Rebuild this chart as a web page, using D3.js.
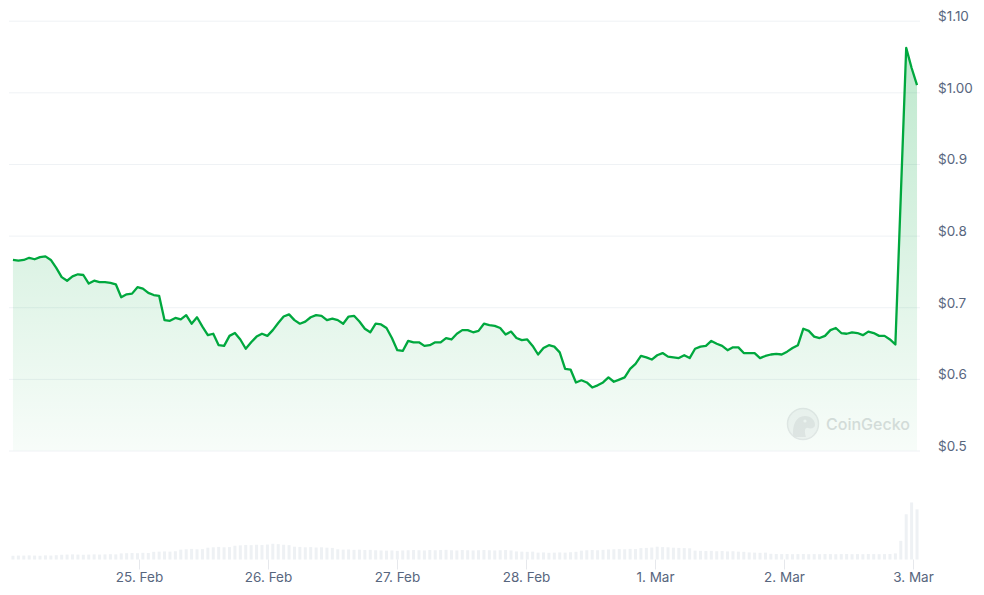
<!DOCTYPE html>
<html>
<head>
<meta charset="utf-8">
<script src="https://cdn.jsdelivr.net/npm/d3@7"></script>
<style>
  html, body { margin: 0; padding: 0; background: #ffffff; }
  svg { display: block; font-family: Inter, "Noto Sans", sans-serif; }
</style>
</head>
<body>
<svg id="chart" width="984" height="595"></svg>
<script>
// ---- DATA ----
const startTime = new Date(2025, 1, 24, 0, 33);
const endTime = new Date(2025, 2, 3, 0, 45);

const prices = [
  0.766, 0.765, 0.766, 0.769, 0.767, 0.770, 0.771, 0.766, 0.755, 0.742,
  0.737, 0.743, 0.746, 0.745, 0.733, 0.737, 0.735, 0.735, 0.734, 0.732,
  0.714, 0.718, 0.719, 0.728, 0.726, 0.720, 0.717, 0.716, 0.682, 0.681,
  0.685, 0.683, 0.689,
  0.677, 0.686, 0.673, 0.661, 0.663, 0.647, 0.646, 0.660, 0.664, 0.655,
  0.642, 0.651, 0.659, 0.663, 0.660, 0.668, 0.678, 0.687, 0.690, 0.682,
  0.677, 0.680, 0.686, 0.689, 0.688, 0.682, 0.684, 0.682, 0.677, 0.687,
  0.688, 0.680, 0.670, 0.665,
  0.677, 0.676, 0.671, 0.657, 0.640, 0.639, 0.653, 0.651, 0.651, 0.646,
  0.647, 0.651, 0.651, 0.657, 0.655, 0.663, 0.668, 0.668, 0.665, 0.667,
  0.677, 0.675, 0.674, 0.671, 0.662, 0.666, 0.657, 0.654, 0.655, 0.646,
  0.634, 0.643, 0.647,
  0.645, 0.637, 0.614, 0.613, 0.595, 0.598, 0.595, 0.588, 0.591, 0.595,
  0.602, 0.596, 0.599, 0.602, 0.614, 0.621, 0.632, 0.630, 0.627, 0.633,
  0.636, 0.631, 0.630, 0.629, 0.633, 0.629, 0.642, 0.645, 0.646, 0.653,
  0.649, 0.646, 0.640, 0.644, 0.644, 0.636,
  0.636, 0.636, 0.629, 0.632, 0.634, 0.635, 0.634, 0.638, 0.643, 0.647,
  0.670, 0.667, 0.659, 0.657, 0.660, 0.668, 0.671, 0.664, 0.663, 0.665,
  0.664, 0.661, 0.666, 0.664, 0.660, 0.660, 0.655, 0.648,
  0.855, 1.062, 1.034, 1.010
];

// volume (thousand USD)
const volumes = [
  38, 40, 40, 42, 40, 38, 42, 40, 44,
  48, 50, 52, 50, 48, 50, 52, 50, 52, 54, 52,
  62, 64, 66, 64, 68, 66,
  78, 80, 82, 80, 84,
  100, 104, 108, 104, 106,
  120, 124, 128, 124, 126,
  140, 144, 148, 146, 150, 148, 152, 160, 156, 150, 146,
  130, 128, 124, 126, 122, 124, 120, 118,
  104, 100, 102, 98, 100, 96, 98, 94, 92, 90, 92, 88,
  92, 94, 96, 94, 92, 96, 94, 96, 98, 94, 92, 96, 94, 92, 94, 96, 94, 92, 94, 96, 92,
  82, 80, 78, 80,
  70, 72, 68, 70, 72, 70, 74, 78,
  90, 94, 96, 94, 98,
  102, 104, 106, 104, 108, 106,
  116, 118, 122, 130, 126, 124, 120, 118, 116, 114,
  90, 88, 86, 88, 84, 86, 82, 84, 80, 78,
  72, 70, 68, 70,
  58, 56, 55, 56, 54, 55, 56, 54, 55, 54, 56, 55, 54, 55, 56, 54, 55, 54, 56, 55, 54, 55, 56,
  62, 190, 460, 580, 510
];

const yTicks = [0.5, 0.6, 0.7, 0.8, 0.9, 1.0, 1.1];
const yTickLabels = ["$0.5", "$0.6", "$0.7", "$0.8", "$0.9", "$1.00", "$1.10"];
const xTickDates = [
  new Date(2025, 1, 25), new Date(2025, 1, 26), new Date(2025, 1, 27),
  new Date(2025, 1, 28), new Date(2025, 2, 1), new Date(2025, 2, 2), new Date(2025, 2, 3)
];
const xTickLabels = ["25. Feb", "26. Feb", "27. Feb", "28. Feb", "1. Mar", "2. Mar", "3. Mar"];

// ---- BUILD ----
const n = prices.length;
const step = (endTime - startTime) / (n - 1);
const data = prices.map((p, i) => ({
  t: new Date(startTime.getTime() + step * i),
  p: p,
  v: volumes[i]
}));

const svg = d3.select("#chart");

const x = d3.scaleTime()
  .domain([xTickDates[0], xTickDates[xTickDates.length - 1]])
  .range([139, 913]);

const y = d3.scaleLinear().domain([0.5, 1.1]).range([450.5, 20.7]);

const volBase = 559.5;
const vScale = d3.scaleLinear().domain([0, 600]).range([0, 59]);

// gradient for area
const defs = svg.append("defs");
const grad = defs.append("linearGradient")
  .attr("id", "areaGrad")
  .attr("gradientUnits", "userSpaceOnUse")
  .attr("x1", 0).attr("x2", 0)
  .attr("y1", y(1.1)).attr("y2", y(0.5));
grad.append("stop").attr("offset", "0%").attr("stop-color", "#00a83e").attr("stop-opacity", 0.27);
grad.append("stop").attr("offset", "100%").attr("stop-color", "#00a83e").attr("stop-opacity", 0.03);

// y axis with gridlines
const yAxis = d3.axisRight(y)
  .tickValues(yTicks)
  .tickSize(911)
  .tickPadding(18)
  .tickFormat((d, i) => yTickLabels[i]);

const gy = svg.append("g").attr("transform", "translate(9,0)").call(yAxis);
gy.select(".domain").remove();
gy.selectAll(".tick line").attr("stroke", "#eff2f5").attr("stroke-width", 1);
gy.selectAll(".tick text")
  .attr("fill", "#58667e")
  .attr("font-size", "13.5px")
  .attr("dy", "0")
  .attr("font-family", "Inter, sans-serif");

// volume bars
svg.append("g").selectAll("rect")
  .data(data)
  .enter().append("rect")
  .attr("x", d => x(d.t) - 1.5)
  .attr("width", 3)
  .attr("y", d => volBase - vScale(d.v))
  .attr("height", d => vScale(d.v))
  .attr("fill", "#eef1f4");

// watermark
const wm = svg.append("g");
wm.append("circle").attr("cx", 803).attr("cy", 424).attr("r", 15.5)
  .attr("fill", "#f4f5f6").attr("stroke", "#e8e9eb").attr("stroke-width", 1.5);
wm.append("path")
  .attr("d", "M793,437 C792,425 796,416 805,416 C811,416 815,420 815,425 C815,428 811,429 808,428 C805,427 804,431 806,437 Z")
  .attr("fill", "#e6e7e9");
wm.append("circle").attr("cx", 805).attr("cy", 421).attr("r", 1.6).attr("fill", "#f6f7f8");
wm.append("text").attr("x", 826).attr("y", 430)
  .attr("fill", "#dcdee0")
  .attr("font-size", "16px")
  .attr("font-weight", 500)
  .attr("font-family", "Inter, sans-serif")
  .text("CoinGecko");

// area
const area = d3.area()
  .x(d => x(d.t))
  .y0(y(0.5))
  .y1(d => y(d.p));
svg.append("path").datum(data)
  .attr("d", area)
  .attr("fill", "url(#areaGrad)");

// line
const line = d3.line()
  .x(d => x(d.t))
  .y(d => y(d.p));
svg.append("path").datum(data)
  .attr("d", line)
  .attr("fill", "none")
  .attr("stroke", "#00a83e")
  .attr("stroke-width", 2.3)
  .attr("stroke-linejoin", "round");

// x axis
const xAxis = d3.axisBottom(x)
  .tickValues(xTickDates)
  .tickSize(10)
  .tickPadding(3)
  .tickFormat((d, i) => xTickLabels[i]);
const gx = svg.append("g").attr("transform", `translate(0,${volBase})`).call(xAxis);
gx.select(".domain").remove();
gx.selectAll(".tick line").attr("stroke", "#e6e8ec");
gx.selectAll(".tick text")
  .attr("fill", "#58667e")
  .attr("font-size", "13.5px")
  .attr("font-family", "Inter, sans-serif");
</script>
</body>
</html>
